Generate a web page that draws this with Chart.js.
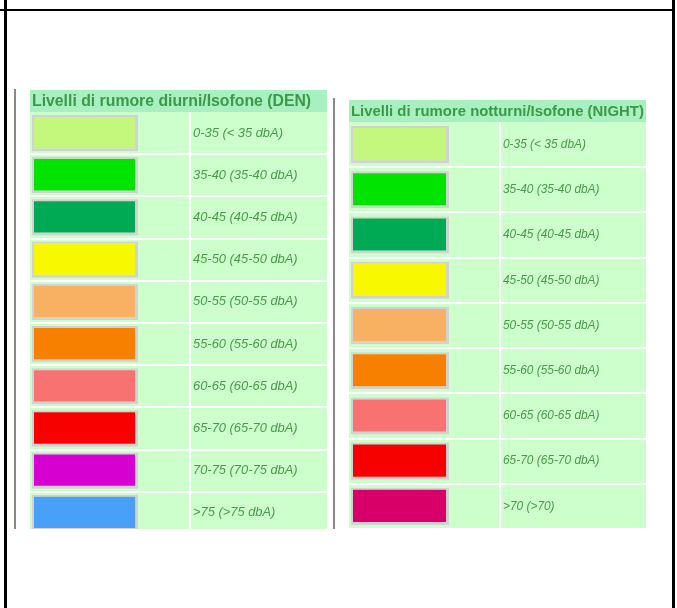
<!DOCTYPE html>
<html>
<head>
<meta charset="utf-8">
<script src="https://cdn.jsdelivr.net/npm/chart.js@4.4.1/dist/chart.umd.min.js"></script>
<style>
  body { margin: 0; width: 677px; height: 608px; background: #fff; position: relative; overflow: hidden; }
  .rule { position: absolute; }
  .box { position: absolute; overflow: hidden; }
  canvas { display: block; }
</style>
</head>
<body>
<div class="rule" style="left:0;top:9px;width:675px;height:2px;background:#000"></div>
<div class="rule" style="left:4px;top:0;width:3px;height:608px;background:#000"></div>
<div class="rule" style="left:672px;top:0;width:3px;height:608px;background:#000"></div>
<div class="rule" style="left:14px;top:89px;width:2px;height:440px;background:#8a8a82"></div>
<div class="rule" style="left:333px;top:98px;width:2px;height:431px;background:#8a8a82"></div>

<div class="box" style="left:30px;top:90px;width:297px;height:439px">
  <canvas id="denChart" width="297" height="444"></canvas>
</div>
<div class="box" style="left:349px;top:100px;width:297px;height:429px">
  <canvas id="nightChart" width="297" height="429"></canvas>
</div>

<script>
// day levels (DEN)
const denTitle = 'Livelli di rumore diurni/Isofone (DEN)';
const denLabels = ['0-35 (< 35 dbA)', '35-40 (35-40 dbA)', '40-45 (40-45 dbA)', '45-50 (45-50 dbA)',
  '50-55 (50-55 dbA)', '55-60 (55-60 dbA)', '60-65 (60-65 dbA)', '65-70 (65-70 dbA)',
  '70-75 (70-75 dbA)', '>75 (>75 dbA)'];
const denValues = [1, 1, 1, 1, 1, 1, 1, 1, 1, 1];
const denColors = ['#c4f87c', '#00e400', '#00aa55', '#f8f800', '#f8b062', '#f88000',
  '#f87272', '#f80000', '#d600d0', '#48a0f8'];

// night levels
const nightTitle = 'Livelli di rumore notturni/Isofone (NIGHT)';
const nightLabels = ['0-35 (< 35 dbA)', '35-40 (35-40 dbA)', '40-45 (40-45 dbA)', '45-50 (45-50 dbA)',
  '50-55 (50-55 dbA)', '55-60 (55-60 dbA)', '60-65 (60-65 dbA)', '65-70 (65-70 dbA)', '>70 (>70)'];
const nightValues = [1, 1, 1, 1, 1, 1, 1, 1, 1];
const nightColors = ['#c4f87c', '#00e400', '#00aa55', '#f8f800', '#f8b062', '#f88000',
  '#f87272', '#f80000', '#d80068'];

const tableColors = {
  body: '#ccffcc',
  header: '#a8f0c0',
  line: '#ffffff',
  title: '#3a9a48',
  text: '#4a9a4a',
  swatchBorder: '#d2d2d2'
};

/**
 * Paints the table background, header band and row separators
 */
const tablePlugin = {
  id: 'tableLook',
  beforeDraw(chart) {
    const ctx = chart.ctx;
    ctx.save();
    ctx.fillStyle = tableColors.body;
    ctx.fillRect(0, 0, chart.width, chart.height);
    if (chart.titleBlock) {
      ctx.fillStyle = tableColors.header;
      ctx.fillRect(0, 0, chart.width, chart.titleBlock.bottom);
    }
    ctx.restore();
  },
  beforeDatasetsDraw(chart) {
    const ctx = chart.ctx;
    const yScale = chart.scales.y;
    const area = chart.chartArea;
    const n = yScale.ticks.length;
    const half = n > 1 ? (yScale.getPixelForTick(1) - yScale.getPixelForTick(0)) / 2 : 0;
    ctx.save();
    ctx.strokeStyle = tableColors.line;
    ctx.lineWidth = 2;
    ctx.beginPath();
    for (let i = 0; i < n; i++) {
      const y = Math.round(yScale.getPixelForTick(i) + half);
      ctx.moveTo(0, y);
      ctx.lineTo(chart.width, y);
    }
    ctx.moveTo(area.right, area.top);
    ctx.lineTo(area.right, chart.height);
    ctx.stroke();
    ctx.restore();
  }
};

function makeLegendTable(canvasId, title, labels, values, colors, cfg) {
  const canvas = document.getElementById(canvasId);
  if (!canvas) return null;
  const ctx = canvas.getContext('2d');

  return new Chart(ctx, {
    type: 'bar',
    data: {
      labels: labels,
      datasets: [{
        data: values,
        backgroundColor: colors,
        borderColor: tableColors.swatchBorder,
        borderWidth: { top: 2, left: 2, right: 3, bottom: 3 },
        borderSkipped: false,
        categoryPercentage: 1,
        barPercentage: cfg.barPercentage
      }]
    },
    options: {
      indexAxis: 'y',
      responsive: false,
      animation: false,
      layout: { padding: { left: 2, top: 0, right: 0, bottom: 0 } },
      plugins: {
        legend: { display: false },
        tooltip: { enabled: false },
        title: {
          display: true,
          text: title,
          align: 'start',
          color: tableColors.title,
          font: { family: 'Liberation Sans', size: cfg.titleSize, weight: 'bold' },
          padding: cfg.titlePadding
        }
      },
      scales: {
        x: { display: false, min: 0, max: cfg.xMax },
        y: {
          position: 'right',
          grid: { display: false, drawTicks: false },
          border: { display: false },
          ticks: {
            color: tableColors.text,
            padding: 3,
            crossAlign: 'near',
            font: { family: 'Liberation Sans', size: cfg.fontSize, style: 'italic' }
          },
          afterFit(scale) {
            scale.width = cfg.axisWidth;
            scale.paddingTop = 0;
            scale.paddingBottom = 0;
          }
        }
      }
    },
    plugins: [tablePlugin]
  });
}

makeLegendTable('denChart', denTitle, denLabels, denValues, denColors, {
  xMax: 1.49, axisWidth: 137, barPercentage: 0.86, fontSize: 12.9,
  titleSize: 15.8, titlePadding: { top: 2, bottom: 1 }
});
makeLegendTable('nightChart', nightTitle, nightLabels, nightValues, nightColors, {
  xMax: 1.52, axisWidth: 146, barPercentage: 0.82, fontSize: 11.9,
  titleSize: 14.9, titlePadding: { top: 2.5, bottom: 1.6 }
});
</script>
</body>
</html>
